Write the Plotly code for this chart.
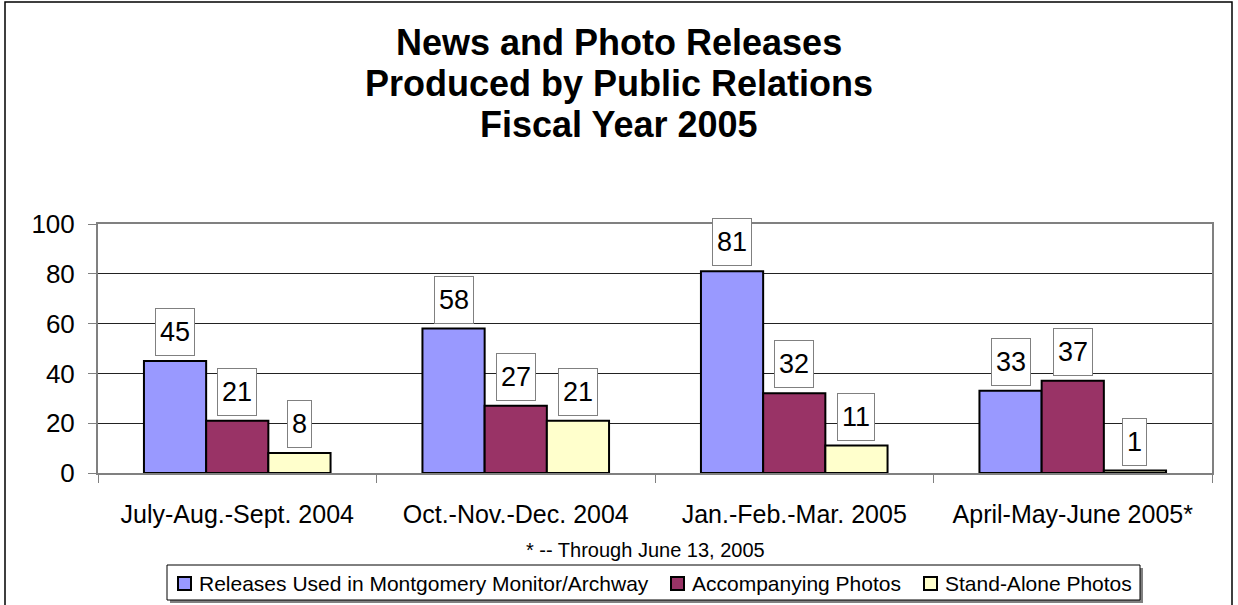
import plotly.graph_objects as go

# Quarterly counts for fiscal year 2005
quarters = [
    "July-Aug.-Sept. 2004",
    "Oct.-Nov.-Dec. 2004",
    "Jan.-Feb.-Mar. 2005",
    "April-May-June 2005*",
]
series_names = [
    "Releases Used in Montgomery Monitor/Archway",
    "Accompanying Photos",
    "Stand-Alone Photos",
]
releases_used = [45, 58, 81, 33]
accompanying_photos = [21, 27, 32, 37]
stand_alone_photos = [8, 21, 11, 1]
y_ticks = [0, 20, 40, 60, 80, 100]

series_values = [releases_used, accompanying_photos, stand_alone_photos]
series_colors = ["#9999FF", "#993366", "#FFFFCC"]

FONT = "Arial, Liberation Sans, sans-serif"
W, H = 1238, 605
L, R, T, B = 98, 26, 224, 132
PW, PH = W - L - R, H - T - B
BARGAP = 0.33


def px_x(x):
    """Page pixel column -> paper x fraction."""
    return (x - L) / PW


def px_y(y):
    """Page pixel row -> paper y fraction."""
    return (H - B - y) / PH


fig = go.Figure()
for name, vals, col in zip(series_names, series_values, series_colors):
    fig.add_trace(go.Bar(
        x=quarters, y=vals, name=name,
        marker=dict(color=col, line=dict(color="black", width=2)),
        showlegend=False,
    ))

# Boxed value labels above each bar
bar_w = (1 - BARGAP) / len(series_values)
annotations = []
for j, vals in enumerate(series_values):
    for i, v in enumerate(vals):
        annotations.append(dict(
            x=i + (j - 1) * bar_w, y=v, xref="x", yref="y",
            text=str(v), showarrow=False, yanchor="bottom", yshift=5,
            font=dict(family=FONT, size=27, color="black"),
            height=38, valign="middle",
            bgcolor="white", bordercolor="#808080", borderwidth=1, borderpad=4,
        ))

# Three-line bold title
title_lines = ["News and Photo Releases", "Produced by Public Relations", "Fiscal Year 2005"]
for k, line in enumerate(title_lines):
    annotations.append(dict(
        x=px_x(619), y=px_y(42 + 41.5 * k), xref="paper", yref="paper",
        text="<b>" + line + "</b>", showarrow=False, xanchor="center", yanchor="middle",
        font=dict(family=FONT, size=36, color="black"),
    ))

# Footnote under the category labels
annotations.append(dict(
    x=px_x(645), y=px_y(550), xref="paper", yref="paper",
    text="* -- Through June 13, 2005", showarrow=False, xanchor="center", yanchor="middle",
    font=dict(family=FONT, size=20, color="black"),
))

shapes = [
    # outer chart frame
    dict(type="rect", xref="paper", yref="paper",
         x0=px_x(5), x1=px_x(1232), y0=px_y(640), y1=px_y(2),
         line=dict(color="black", width=1.5), layer="below"),
]

# Legend box with drop shadow, swatches and entry texts
LEG_X0, LEG_X1, LEG_Y0, LEG_Y1 = 167, 1140, 565, 600
shapes.append(dict(type="rect", xref="paper", yref="paper",
                   x0=px_x(LEG_X0 + 3), x1=px_x(LEG_X1 + 3),
                   y0=px_y(LEG_Y1 + 3), y1=px_y(LEG_Y0 + 3),
                   fillcolor="#808080", line=dict(width=0), layer="above"))
shapes.append(dict(type="rect", xref="paper", yref="paper",
                   x0=px_x(LEG_X0), x1=px_x(LEG_X1), y0=px_y(LEG_Y1), y1=px_y(LEG_Y0),
                   fillcolor="white", line=dict(color="black", width=1), layer="above"))
legend_text_x = [197, 690, 943]
leg_cy = 583.5
for tx, name, col in zip(legend_text_x, series_names, series_colors):
    shapes.append(dict(type="rect", xref="paper", yref="paper",
                       x0=px_x(tx - 19), x1=px_x(tx - 6),
                       y0=px_y(leg_cy + 6.5), y1=px_y(leg_cy - 6.5),
                       fillcolor=col, line=dict(color="black", width=2), layer="above"))
    annotations.append(dict(
        x=px_x(tx), y=px_y(leg_cy), xref="paper", yref="paper",
        text=name, showarrow=False, xanchor="left", yanchor="middle",
        font=dict(family=FONT, size=21, color="black"),
    ))

fig.update_layout(
    width=W, height=H,
    margin=dict(l=L, r=R, t=T, b=B, pad=0, autoexpand=False),
    paper_bgcolor="white", plot_bgcolor="white",
    barmode="group", bargap=BARGAP, bargroupgap=0,
    font=dict(family=FONT, color="black"),
    showlegend=False,
    annotations=annotations,
    shapes=shapes,
)

fig.update_xaxes(
    type="category", showline=True, linecolor="#808080", linewidth=2, mirror=True,
    ticks="outside", tickson="boundaries", ticklen=8, tickcolor="#808080",
    tickfont=dict(family=FONT, size=25, color="black"),
    showgrid=False, ticklabelstandoff=18, automargin=False,
)
fig.update_yaxes(
    range=[0, 100], tickvals=y_ticks, showline=True, linecolor="#808080", linewidth=2,
    mirror=True, ticks="outside", ticklen=8, tickcolor="#808080",
    tickfont=dict(family=FONT, size=26, color="black"),
    showgrid=True, gridcolor="#222222", gridwidth=1, zeroline=False,
    ticklabelstandoff=8, automargin=False,
)

fig.write_html("out.html")
